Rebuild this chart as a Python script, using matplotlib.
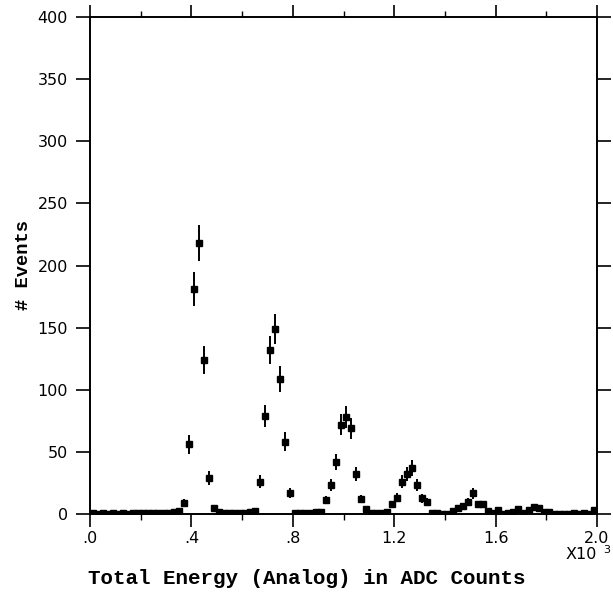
import numpy as np
import matplotlib
matplotlib.use("Agg")
import matplotlib.pyplot as plt
from matplotlib.ticker import MultipleLocator

# histogram of total energy, bins of 0.02 (x10^3 ADC counts) from 0 to 2.0
bin_width = 0.02
counts = [
    0.5, 0.3, 0.5, 0.3, 0.5, 0.3, 0.5, 0.3, 0.5, 0.8,
    0.5, 1, 0.5, 1, 0.5, 1, 1.5, 2.5, 9, 56,
    181, 218, 124, 29, 5, 1.5, 0.5, 0.5, 0.5, 1,
    1, 1.5, 2.5, 26, 79, 132, 149, 109, 58, 17,
    0.5, 0.5, 1, 1, 1.5, 2, 11, 23, 42, 72,
    78, 69, 32, 12, 4, 0.5, 0.5, 1, 1.5, 8,
    13, 26, 32, 37, 23, 12.5, 10, 1, 0.5, 0,
    0.3, 2.7, 4.5, 6.5, 10, 16.5, 8, 8, 2.7, 0.5,
    3, 0.3, 0.5, 1.5, 4, 1, 3.5, 6, 5, 1.5,
    1.5, 0.3, 0.3, 0.3, 0.3, 0.5, 0.3, 0.5, 0.3, 3.5,
]
counts = np.array(counts)
centers = bin_width * (np.arange(len(counts)) + 0.5)
errors = np.sqrt(counts)

xticks = [0.0, 0.4, 0.8, 1.2, 1.6, 2.0]
xticklabels = [".0", ".4", ".8", "1.2", "1.6", "2.0"]
yticks = [0, 50, 100, 150, 200, 250, 300, 350, 400]

fig = plt.figure(figsize=(6.13, 5.93), dpi=100)
ax = fig.add_axes([90 / 613, 79 / 593, 507 / 613, 497 / 593])

ax.errorbar(centers, counts, yerr=errors, fmt="s", color="black",
            markersize=4, elinewidth=1.4, capsize=0)

ax.set_xlim(0, 2.0)
ax.set_ylim(0, 400)

for s in ax.spines.values():
    s.set_linewidth(1.4)
    s.set_color("black")

ax.set_xticks(xticks)
ax.set_xticklabels(xticklabels)
ax.set_yticks(yticks)
ax.xaxis.set_minor_locator(MultipleLocator(0.2))
ax.tick_params(which="major", direction="out", length=10, width=1.2,
               top=True, right=True, labelsize=11.5, colors="black", pad=6)
ax.tick_params(which="minor", direction="out", length=4, width=1.0,
               top=True, bottom=True, left=False, right=False)
ax.tick_params(axis="x", which="major", length=9, pad=3)

# multiplier written under the last tick label, as on the original plot
ax.text(1.0, -0.082, "X10", transform=ax.transAxes, ha="right", va="center",
        fontsize=11.5)
ax.text(1.012, -0.072, "3", transform=ax.transAxes, ha="left", va="center",
        fontsize=8)

ax.set_xlabel("Total Energy (Analog) in ADC Counts", family="Liberation Mono",
              fontweight="bold", fontsize=15)
ax.xaxis.set_label_coords(0.428, -0.129)
ax.xaxis.label.set_va("center")
ax.set_ylabel("# Events", family="Liberation Mono", fontweight="bold",
              fontsize=13.5)
ax.yaxis.set_label_coords(-0.115, 0.5)

fig.savefig("out.png", dpi=100)
